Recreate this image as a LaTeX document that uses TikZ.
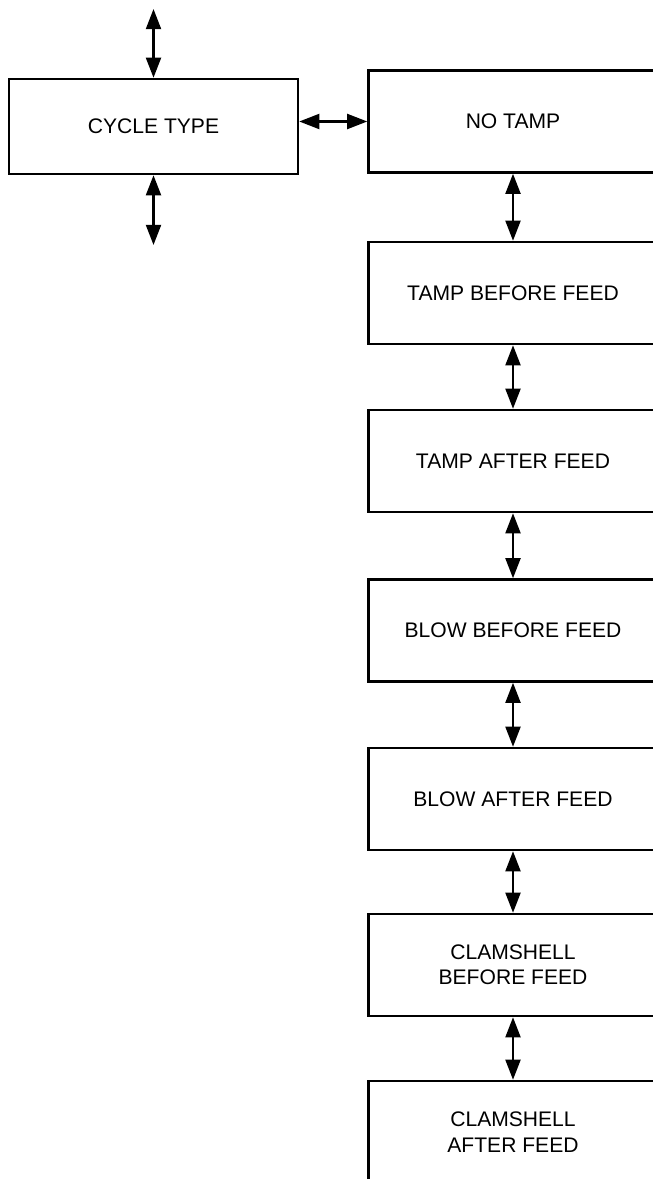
\documentclass[tikz,border=0pt]{standalone}
\usepackage{fontspec}
\setmainfont{Liberation Sans}
\usetikzlibrary{arrows.meta}

\begin{document}
\begin{tikzpicture}[
        x=0.02cm, y=-0.02cm,
        box/.style={rectangle, draw, line width=1.4pt, minimum width=5.78cm, minimum height=2.04cm, align=center, font=\fontsize{12}{14.4}\selectfont},
        arrow/.style={{Triangle[length=11.5pt,width=8.5pt]}-{Triangle[length=11.5pt,width=8.5pt]}, line width=1.4pt}
    ]
        \useasboundingbox (0,0) rectangle (652,1179);

        % Cycle type
        \node[box, minimum height=1.9cm] (cycle) at (153.5,126.5) {CYCLE TYPE};
        \coordinate (cycleup) at (153.5,9);
        \coordinate (cycledown) at (153.5,245);

        % Cycle options
        \node[box] (notamp) at (513,121.5) {NO TAMP};
        \node[box] (tampbefore) at (513,293) {TAMP BEFORE FEED};
        \node[box] (tampafter) at (513,461) {TAMP AFTER FEED};
        \node[box] (blowbefore) at (513,630.5) {BLOW BEFORE FEED};
        \node[box] (blowafter) at (513,799) {BLOW AFTER FEED};
        \node[box] (clambefore) at (513,965) {CLAMSHELL\\BEFORE FEED};
        \node[box] (clamafter) at (513,1132) {CLAMSHELL\\AFTER FEED};

        % Arrows
        \draw[arrow] (cycleup) -- (cycle.north);
        \draw[arrow] (cycle.south) -- (cycledown);
        \draw[arrow] (cycle.east |- notamp.west) -- (notamp.west);
        \foreach \a/\b in {notamp/tampbefore, tampbefore/tampafter, tampafter/blowbefore, blowbefore/blowafter, blowafter/clambefore, clambefore/clamafter}
            \draw[arrow] (\a.south) -- (\b.north);

    \end{tikzpicture}
\end{document}
